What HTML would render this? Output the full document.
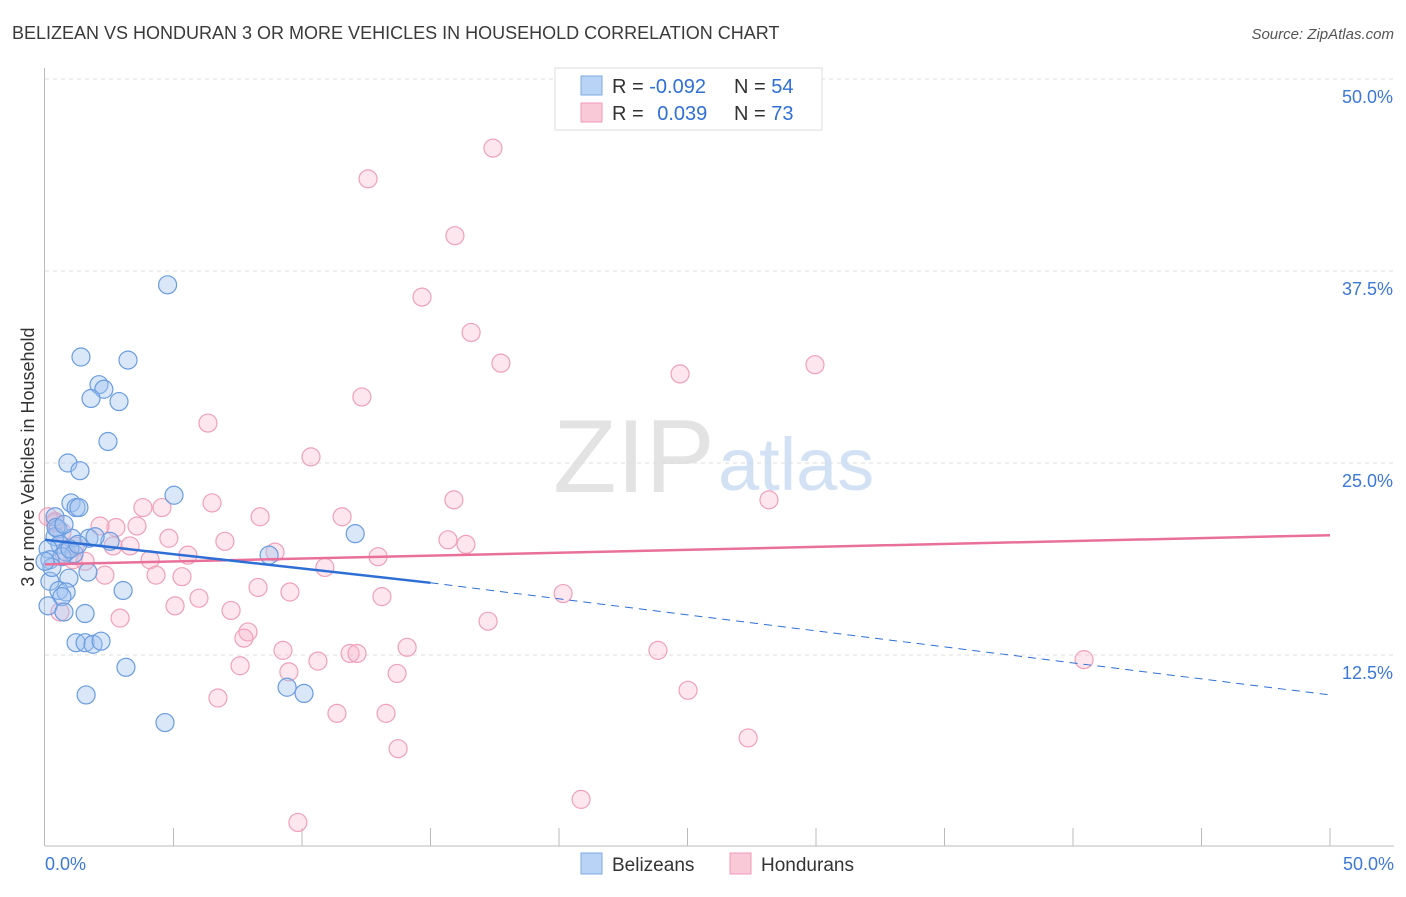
<!DOCTYPE html>
<html><head><meta charset="utf-8"><style>
body{margin:0;background:#fff;font-family:"Liberation Sans",sans-serif}
svg text{font-family:"Liberation Sans",sans-serif}
</style></head><body>
<svg id="chart" width="1406" height="892" xmlns="http://www.w3.org/2000/svg">
<text x="12" y="39" font-size="18" fill="#3a3a3a">BELIZEAN VS HONDURAN 3 OR MORE VEHICLES IN HOUSEHOLD CORRELATION CHART</text>
<text x="1394" y="39" font-size="15" fill="#555" text-anchor="end" font-style="italic">Source: ZipAtlas.com</text>
<text transform="translate(34,457) rotate(-90)" font-size="18" fill="#333" text-anchor="middle">3 or more Vehicles in Household</text>
<g id="grid"></g>
<text x="553" y="492" font-size="104" fill="#ddd" font-family="Liberation Serif" opacity="0.8">ZIP</text>
<text x="718" y="490" font-size="74" fill="#c8daf2" opacity="0.8">atlas</text>
<g id="pts"></g>
<g id="lines"></g>
<g>
<rect x="555" y="68" width="267" height="62" fill="#fff" stroke="#ddd"/>
<rect x="581" y="76" width="21" height="19" fill="#b8d3f5" stroke="#7fa8e0"/>
<rect x="581" y="103" width="21" height="19" fill="#fac9d8" stroke="#f09ab4"/>
<text x="612" y="93" font-size="20" fill="#333">R = <tspan fill="#2f6fd6">-0.092</tspan></text>
<text x="734" y="93" font-size="20" fill="#333">N = <tspan fill="#2f6fd6">54</tspan></text>
<text x="612" y="120" font-size="20" fill="#333">R = <tspan fill="#2f6fd6" dx="8">0.039</tspan></text>
<text x="734" y="120" font-size="20" fill="#333">N = <tspan fill="#2f6fd6">73</tspan></text>
</g>
<g>
<rect x="581" y="853" width="21" height="21" fill="#b8d3f5" stroke="#7fa8e0"/>
<text x="612" y="871" font-size="19" fill="#333">Belizeans</text>
<rect x="730" y="853" width="21" height="21" fill="#fac9d8" stroke="#f09ab4"/>
<text x="761" y="871" font-size="19" fill="#333">Hondurans</text>
</g>
</svg>
<script>
const yTicks=[12.5,25,37.5,50];
const yTickLabels=["12.5%","25.0%","37.5%","50.0%"];
const xTickLabels=["0.0%","50.0%"];
const blueX=[4.77,1.4,3.23,2.10,2.29,1.79,2.88,2.45,0.89,1.36,5.02,1.01,1.21,1.32,0.39,0.51,0.39,1.05,1.71,2.53,0.58,0.12,0.82,1.13,0.66,0.19,8.72,12.07,1.67,0.93,0.19,0.54,0.82,3.04,0.66,0.12,0.74,1.56,1.21,1.56,1.87,2.18,3.15,9.42,1.60,10.08,4.67,0.43,0.97,0.27,0.0,1.28,0.74,1.95];
const blueY=[36.6,31.9,31.7,30.1,29.8,29.2,29.0,26.4,25.0,24.5,22.9,22.4,22.1,22.1,21.5,20.7,20.2,20.1,20.1,19.9,19.7,19.4,19.2,19.1,18.9,18.7,19.0,20.4,17.9,17.5,17.3,16.7,16.6,16.7,16.3,15.7,15.3,15.2,13.3,13.3,13.2,13.4,11.7,10.4,9.9,10.0,8.1,20.8,19.4,18.2,18.6,19.7,21.0,20.2];
const pinkX=[17.43,12.57,15.95,14.67,16.58,17.74,24.71,29.96,12.33,6.34,10.35,15.91,28.17,6.50,3.81,4.55,11.56,8.37,3.58,0.39,2.76,2.14,4.82,7.0,15.68,16.38,2.65,3.31,5.56,8.95,12.96,4.09,10.89,0.74,1.09,4.32,5.33,2.33,20.16,8.29,9.53,13.11,5.99,5.06,7.24,2.92,17.24,7.90,7.74,14.09,9.26,11.87,12.14,23.85,10.62,7.59,40.43,13.70,9.49,6.73,25.02,11.36,13.27,27.36,13.74,20.86,9.84,0.58,0.39,1.17,1.56,0.66,0.12];
const pinkY=[45.5,43.5,39.8,35.8,33.5,31.5,30.8,31.4,29.3,27.6,25.4,22.6,22.6,22.4,22.1,22.1,21.5,21.5,20.9,21.1,20.8,20.9,20.1,19.9,20.0,19.7,19.6,19.6,19.0,19.2,18.9,18.7,18.2,19.1,18.7,17.7,17.6,17.7,16.5,16.9,16.6,16.3,16.2,15.7,15.4,14.9,14.7,14.0,13.6,13.0,12.8,12.6,12.6,12.8,12.1,11.8,12.2,11.3,11.4,9.7,10.2,8.7,8.7,7.1,6.4,3.1,1.6,15.3,21.2,19.6,18.6,20.5,21.5];
const blueTrend=[[0,20.0],[15,17.2]];
const blueDash=[[15,17.2],[50,9.9]];
const pinkTrend=[[0,18.4],[50,20.3]];
const NS="http://www.w3.org/2000/svg";
const X=v=>45+v/50*1285, Y=v=>847-v/12.5*192;
function mk(t,a,p){const e=document.createElementNS(NS,t);for(const k in a)e.setAttribute(k,a[k]);p.appendChild(e);return e;}
const grid=document.getElementById('grid');
yTicks.forEach((t,i)=>{
 const l=mk('line',{x1:45,x2:1394,y1:Y(t),y2:Y(t),stroke:'#ddd','stroke-dasharray':'4,4'},grid);
 
 
 const tx=mk('text',{x:1393,y:Y(t)+24,'font-size':18,fill:'#3b78d8','text-anchor':'end'},grid);
 tx.textContent=yTickLabels[i];
 
 
});
const ax=mk('line',{x1:44.5,x2:44.5,y1:68,y2:846,stroke:'#bbb'},grid);


const bx=mk('line',{x1:45,x2:1394,y1:846,y2:846,stroke:'#bbb'},grid);


for(let i=1;i<=10;i++){const t=mk('line',{x1:X(i*5),x2:X(i*5),y1:828,y2:846,stroke:'#bbb'},grid);
 
 }
[[0,'start',45],[1,'end',1394]].forEach(([i,a,x])=>{const t=mk('text',{x:x,y:870,'font-size':18,fill:'#3b78d8','text-anchor':a},grid);t.textContent=xTickLabels[i];
 
 });
const pts=document.getElementById('pts');
pinkX.forEach((v,i)=>{const c=mk('circle',{cx:X(v),cy:Y(pinkY[i]),r:9,fill:'rgba(248,180,202,0.33)',stroke:'#f0a0b8','stroke-width':1.2},pts);
 
 });
blueX.forEach((v,i)=>{const c=mk('circle',{cx:X(v),cy:Y(blueY[i]),r:9,fill:'rgba(160,196,240,0.4)',stroke:'#6a9ce0','stroke-width':1.2},pts);
 
 });
const lines=document.getElementById('lines');
function ln(d,attrs,name){const l=mk('line',Object.assign({x1:X(d[0][0]),y1:Y(d[0][1]),x2:X(d[1][0]),y2:Y(d[1][1])},attrs),lines);
 
 }
ln(pinkTrend,{stroke:'#e8709a','stroke-width':2.5},'honduran-trendline');
ln(blueTrend,{stroke:'#2e6fd6','stroke-width':2.5},'belizean-trendline');
ln(blueDash,{stroke:'#2e6fd6','stroke-width':1,'stroke-dasharray':'8,6'},'belizean-trendline-extension');
</script>
</body></html>
